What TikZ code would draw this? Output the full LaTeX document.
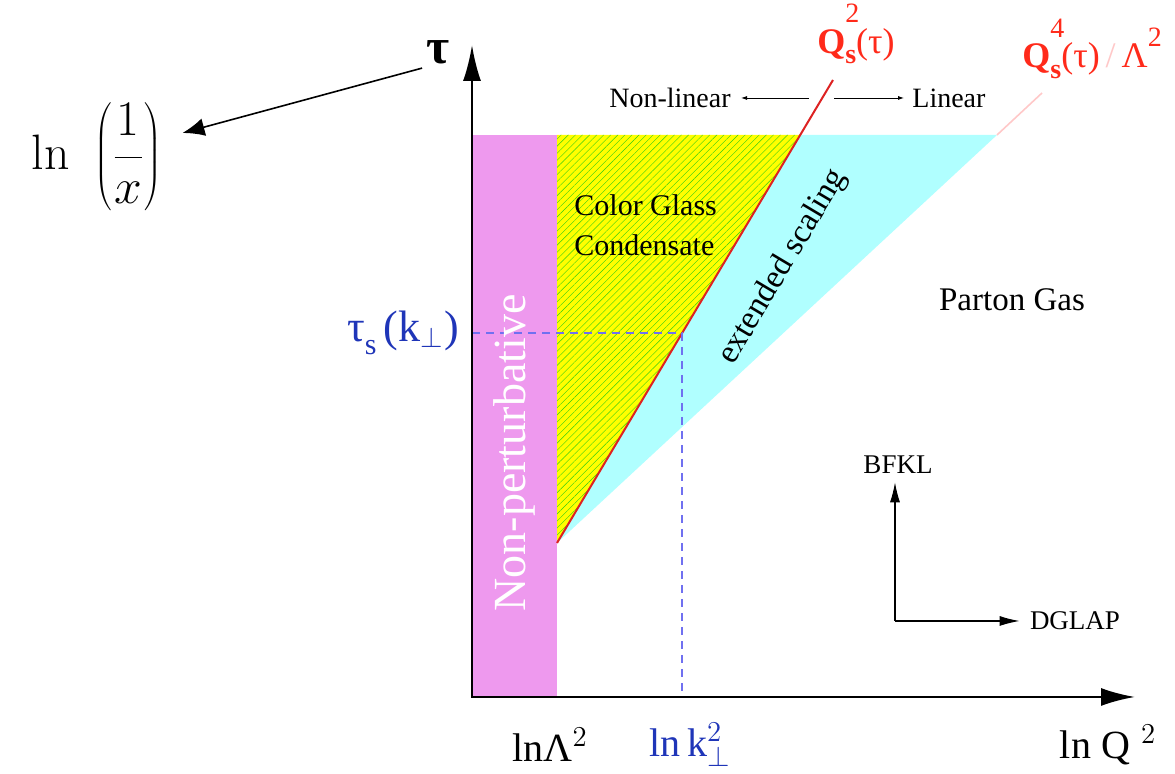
\documentclass[tikz,border=0pt]{standalone}
\usepackage[no-math]{fontspec}
\setmainfont{Liberation Serif}
\usetikzlibrary{arrows.meta,patterns.meta}
\definecolor{npink}{HTML}{EE99EE}
\definecolor{cgcyel}{HTML}{FFFF00}
\definecolor{hatch}{HTML}{33CC11}
\definecolor{scyan}{HTML}{B0FFFF}
\definecolor{qred}{HTML}{FF2A1A}
\definecolor{qline}{HTML}{DD2222}
\definecolor{qfaint}{HTML}{FFC8C8}
\definecolor{kblue}{HTML}{1F35B8}
\definecolor{kdash}{HTML}{7070F0}
\tikzset{
  axis/.style={line width=1.2pt, {Latex[length=18pt,width=9pt]}-{Latex[length=17pt,width=9pt]}},
  flow/.style={line width=0.6pt, -{Latex[length=10pt,width=5pt]}},
  tiny/.style={line width=0.4pt, -{Latex[length=3pt,width=2pt]}},
  guide/.style={draw=kdash, line width=0.9pt, dash pattern=on 4pt off 3pt},
  lbl/.style={inner sep=2pt, font=\fontsize{14}{16}\selectfont},
  reg/.style={inner sep=2pt, font=\fontsize{15}{20}\selectfont},
  axlbl/.style={inner sep=2pt, font=\fontsize{20}{22}\selectfont},
  sat/.style={inner sep=1pt, text=qred, font=\fontsize{18}{20}\selectfont}
}
% Q_s with a raised power
\newcommand{\Qsat}[1]{\textbf{Q}\rlap{\raisebox{0.85em}{\fontsize{14}{14}\selectfont #1}}%
  \raisebox{-0.3em}{\fontsize{14}{14}\selectfont\bfseries s}}

\begin{document}
\begin{tikzpicture}[x=0.5pt, y=0.5pt]
  \useasboundingbox (0,0) rectangle (1175,774);
  % corners of the regions
  \coordinate (O) at (472,77);
  \coordinate (A) at (557,231);
  \coordinate (T) at (800,639);
  \coordinate (C) at (997,639);
  \coordinate (R) at (833,694);
  \coordinate (F) at (1042,681);
  \coordinate (S) at (682,441);
  \coordinate (ytip) at (472,729);
  \coordinate (xtip) at (1135,77);
  % regions
  \fill[npink] (O) rectangle (557,639);
  \fill[scyan] (A) -- (T) -- (C) -- cycle;
  \fill[cgcyel] (A) -- (T) -- (557,639) -- cycle;
  \fill[pattern={Lines[angle=45,distance=2.5pt,line width=0.2pt]}, pattern color=hatch]
    (A) -- (T) -- (557,639) -- cycle;
  \draw[qfaint, line width=0.8pt] (C) -- (F);
  \draw[qline, line width=1pt] (A) -- (R);
  \draw[guide] (O |- S) -- (S) -- (S |- O);
  \draw[axis] (ytip) -- (O) -- (xtip);

  % axis labels
  \node[inner sep=2pt, font=\fontsize{25}{26}\selectfont\bfseries] (tau) at (438,722) {τ};
  \node[inner sep=2pt, font=\fontsize{29}{32}\selectfont] (lnx) at (97,617)
    {$\displaystyle\ln\,\,\left(\frac{1}{x}\right)$};
  \draw[line width=0.8pt, -{Latex[length=11pt,width=9pt]}]
    (tau.south west) -- ([shift={(16,24)}]lnx.east);
  \node[axlbl] (lnlam) at (550,29) {lnΛ$^{2}$};
  \node[axlbl, text=kblue] (lnk) at (690,29) {ln\,k$^{2}_{\perp}$};
  \node[axlbl] (lnq) at (1108,29) {ln Q\;$^{2}$};
  \node[inner sep=2pt, text=kblue, font=\fontsize{22}{24}\selectfont] (taus) at (403,441)
    {τ\raisebox{-0.3em}{\fontsize{15}{15}\selectfont s}\,(k$_{\perp}$)};

  % saturation lines
  \node[sat] (qs2) at (856,740) {\Qsat{2}(τ)};
  \node[sat, anchor=west] (qs4) at (1020,725)
    {\Qsat{4}(τ)\,{\color{qfaint}/}\,Λ\raisebox{0.6em}{\fontsize{14}{14}\selectfont 2}};
  \node[lbl, anchor=east] (nonlin) at (735,676) {Non-linear};
  \node[lbl, anchor=west] (lin) at (908,676) {Linear};
  \coordinate (splitL) at (809,676);
  \coordinate (splitR) at (834,676);
  \draw[tiny, shorten >=3pt] (splitL) -- (nonlin);
  \draw[tiny, shorten >=2pt] (splitR) -- (lin);

  % region names
  \node[reg, align=left, anchor=west] (cgc) at (570,549) {Color Glass\\Condensate};
  \node[inner sep=2pt, font=\fontsize{16.5}{18}\selectfont, rotate=59.2] (extsc) at (783,507) {extended scaling};
  \node[inner sep=2pt, font=\fontsize{16.5}{18}\selectfont] (parton) at (1012,474) {Parton Gas};
  \node[inner sep=2pt, rotate=90, text=white, font=\fontsize{23}{25}\selectfont]
    (nonpert) at (514,321) {Non-perturbative};

  % evolution directions
  \coordinate (crn) at (895,153);
  \node[lbl, font=\fontsize{13.5}{15}\selectfont] (bfkl) at (898,309) {BFKL};
  \node[lbl, font=\fontsize{13.5}{15}\selectfont] (dglap) at (1075,153) {DGLAP};
  \draw[flow, shorten >=2pt] (crn) -- (crn |- bfkl.south);
  \draw[flow, shorten >=3pt] (crn) -- (dglap.west);
\end{tikzpicture}
\end{document}
